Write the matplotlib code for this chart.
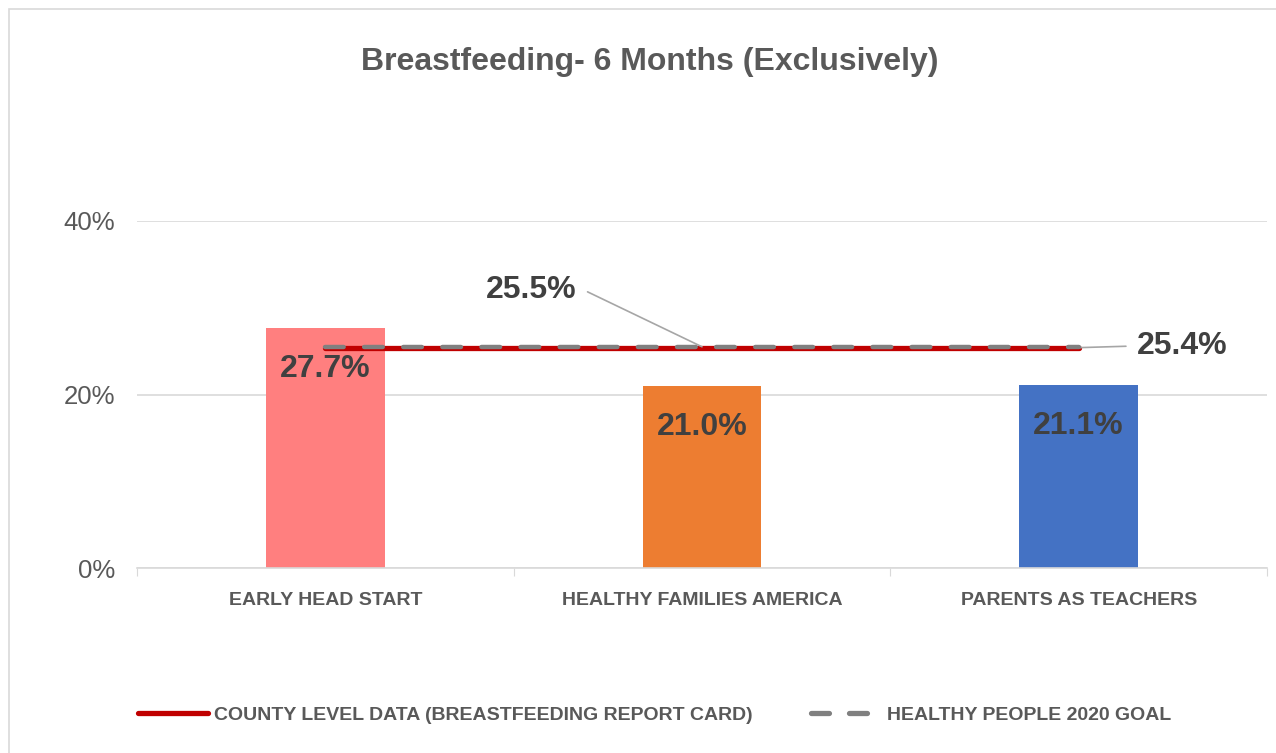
import matplotlib
matplotlib.use("Agg")
import matplotlib.pyplot as plt
from matplotlib.patches import Rectangle
from matplotlib.lines import Line2D

# data
categories = ["EARLY HEAD START", "HEALTHY FAMILIES AMERICA", "PARENTS AS TEACHERS"]
values = [0.277, 0.210, 0.211]
bar_colors = ["#FF7F7F", "#ED7D31", "#4472C4"]
county_level = 0.254   # county level data (breastfeeding report card)
hp2020_goal = 0.255    # healthy people 2020 goal
yticks = [0.0, 0.2, 0.4]

plt.rcParams['font.family'] = ['Liberation Sans', 'DejaVu Sans']

fig = plt.figure(figsize=(12.76, 7.53), dpi=100)
ax = fig.add_axes([137 / 1276, 185 / 753, 1130 / 1276, 347 / 753])

# light chart frame
fig.patches.append(Rectangle((8.5 / 1276, -0.05), 1.2, (753 - 9) / 753 + 0.05,
                             transform=fig.transFigure, fill=False,
                             edgecolor="#D9D9D9", linewidth=1.2))

x = list(range(len(categories)))
ax.bar(x, values, width=0.315, color=bar_colors, zorder=2)

# value labels inside end of bars
for xi, v in zip(x, values):
    ax.annotate(f"{v * 100:.1f}%", xy=(xi, v), xytext=(0, -41),
                textcoords="offset pixels", ha="center", va="center",
                fontsize=23, fontweight="bold", color="#404040", zorder=5)

# reference lines across the categories
ax.plot([x[0], x[-1]], [county_level, county_level], color="#C00000",
        linewidth=3.8, solid_capstyle="round", zorder=3)
ax.plot([x[0], x[-1]], [hp2020_goal, hp2020_goal], color="#808080",
        linewidth=3.2, dashes=(4.2, 4.6), dash_capstyle="round", zorder=4)

ax.annotate(f"{hp2020_goal * 100:.1f}%", xy=(1.0, hp2020_goal),
            xytext=(0.667, 0.32), ha="right", va="center",
            fontsize=23, fontweight="bold", color="#404040",
            arrowprops=dict(arrowstyle="-", color="#A6A6A6", linewidth=1.2,
                            relpos=(1, 0.5), shrinkA=6, shrinkB=0,
                            connectionstyle="arc,angleA=0,armA=8,angleB=0,armB=0,rad=0"))
ax.annotate(f"{county_level * 100:.1f}%", xy=(x[-1], county_level),
            xytext=(2.155, 0.256), ha="left", va="center",
            fontsize=23, fontweight="bold", color="#404040",
            arrowprops=dict(arrowstyle="-", color="#A6A6A6", linewidth=1.2,
                            relpos=(0, 0.5), shrinkA=6, shrinkB=0))

ax.set_xlim(-0.5, len(categories) - 0.5)
ax.set_ylim(0, 0.4)
ax.set_yticks(yticks)
ax.set_yticklabels([f"{t * 100:.0f}%" for t in yticks])
ax.tick_params(axis="y", length=0, labelsize=18.5, labelcolor="#595959", pad=16)

# category ticks at boundaries, labels at centres
ax.set_xticks([i - 0.5 for i in range(len(categories) + 1)])
ax.set_xticklabels([])
ax.set_xticks(x, minor=True)
ax.set_xticklabels(categories, minor=True, fontsize=14, fontweight="bold",
                   color="#595959")
ax.tick_params(axis="x", which="major", length=6, color="#D9D9D9")
ax.tick_params(axis="x", which="minor", length=0, pad=17)

ax.grid(axis="y", color="#D9D9D9", linewidth=1.2, zorder=0)
ax.set_axisbelow(True)
for s in ["top", "right", "left"]:
    ax.spines[s].set_visible(False)
ax.spines["bottom"].set_color("#D9D9D9")
ax.spines["bottom"].set_linewidth(1.2)

fig.text(650 / 1276, 1 - 62 / 753, "Breastfeeding- 6 Months (Exclusively)", ha="center",
         va="center", fontsize=23, fontweight="bold", color="#595959")

handles = [Line2D([0], [0], color="#C00000", linewidth=3.8, solid_capstyle="round"),
           Line2D([0], [0], color="#808080", linewidth=3.8, dashes=(3.4, 3.8),
                  dash_capstyle="round")]
fig.legend(handles, ["COUNTY LEVEL DATA (BREASTFEEDING REPORT CARD)", "HEALTHY PEOPLE 2020 GOAL"],
           loc="center", bbox_to_anchor=(0.513, 1 - 715 / 753), ncol=2, frameon=False,
           handlelength=3.6, handletextpad=0.3, columnspacing=3.0,
           prop={"weight": "bold", "size": 14}, labelcolor="#595959")

fig.savefig("out.png", dpi=100)
